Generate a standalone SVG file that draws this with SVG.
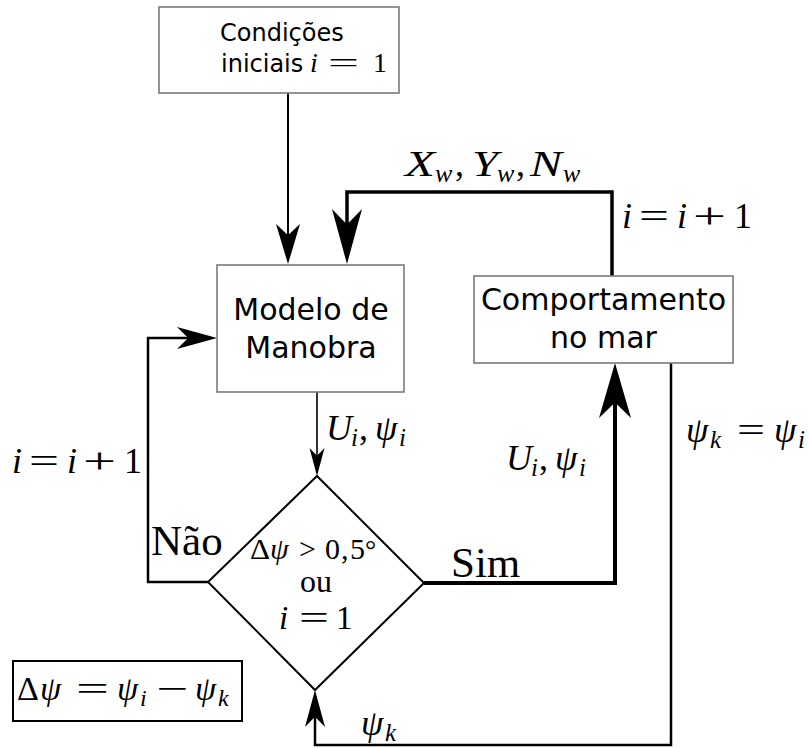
<svg xmlns="http://www.w3.org/2000/svg" xmlns:xlink="http://www.w3.org/1999/xlink" width="809" height="749" viewBox="0 0 809 749">
<style>
.box{fill:#fff;stroke:#7a7a7a;stroke-width:1.6}
.sans{font-family:"DejaVu Sans",sans-serif;fill:#000}
.m{font-family:"Liberation Serif",serif;font-style:italic;fill:#000}
.r{font-family:"Liberation Serif",serif;font-style:normal;fill:#000}
.op{font-family:"Liberation Serif",serif;font-style:normal;fill:#000}
.ln{fill:none;stroke:#000}
</style>
<defs>
<path id="ah" d="M0,0 L-1,-1 L-0.72,0 L-1,1 Z" fill="#000"/>
</defs>
<rect width="809" height="749" fill="#fff"/>

<g id="connectors">
  <path class="ln" stroke-width="2" d="M288,93 V240"/>
  <path class="ln" stroke-width="3.5" d="M612,276 V192 H347 V235"/>
  <path class="ln" stroke-width="2.5" d="M208,582 H148 V338 H200"/>
  <path class="ln" stroke-width="1.6" d="M317,392 V460"/>
  <path class="ln" stroke-width="4" d="M424,583 H615 V400"/>
  <path class="ln" stroke-width="2.5" d="M671,363 V745 H315 V705"/>
  <use xlink:href="#ah" transform="translate(288,264) rotate(90) scale(40,12)"/>
  <use xlink:href="#ah" transform="translate(347,264) rotate(90) scale(55,15)"/>
  <use xlink:href="#ah" transform="translate(217,338) scale(40,11)"/>
  <use xlink:href="#ah" transform="translate(317,476) rotate(90) scale(28,7.5)"/>
  <use xlink:href="#ah" transform="translate(615,363) rotate(-90) scale(55,16)"/>
  <use xlink:href="#ah" transform="translate(315,690) rotate(-90) scale(37,10)"/>
</g>

<g id="n-init">
  <rect class="box" x="159" y="7" width="240" height="86"/>
  <text class="sans" x="220" y="41" font-size="24">Condições</text>
  <text class="sans" x="221" y="72" font-size="24">iniciais<tspan class="m" x="310" font-size="28">i</tspan><tspan class="op" x="328" font-size="28" textLength="31" lengthAdjust="spacingAndGlyphs">=</tspan><tspan class="r" x="373" font-size="28">1</tspan></text>
</g>

<g id="n-modelo">
  <rect class="box" x="217" y="265" width="187" height="127"/>
  <text class="sans" x="311" y="320" font-size="30" text-anchor="middle">Modelo de</text>
  <text class="sans" x="311" y="358" font-size="30" text-anchor="middle">Manobra</text>
</g>

<g id="n-comport">
  <rect class="box" x="474" y="276" width="259" height="87"/>
  <text class="sans" x="603.5" y="310" font-size="30" text-anchor="middle">Comportamento</text>
  <text class="sans" x="603.5" y="348" font-size="30" text-anchor="middle">no mar</text>
</g>

<g id="n-decisao">
  <polygon points="317,476 424,583 315,690 208,582" fill="#fff" stroke="#000" stroke-width="2"/>
  <text class="r" x="250" y="559" font-size="30" textLength="20" lengthAdjust="spacingAndGlyphs">Δ</text>
  <text class="m" x="270" y="559" font-size="30">ψ</text>
  <text class="op" x="299" y="559" font-size="30">&gt;</text>
  <text class="r" x="325" y="559" font-size="30">0</text>
  <text class="r" x="341" y="559" font-size="30">,</text>
  <text class="r" x="350" y="559" font-size="30">5</text>
  <text class="r" x="365" y="559" font-size="28">°</text>
  <text class="r" x="316" y="592" font-size="32" text-anchor="middle">ou</text>
  <text class="m" x="279" y="629" font-size="33">i</text>
  <text class="op" x="299" y="629" font-size="33" textLength="30" lengthAdjust="spacingAndGlyphs">=</text>
  <text class="r" x="336" y="629" font-size="33">1</text>
</g>

<g id="n-delta">
  <rect x="13" y="661" width="229" height="60" fill="#fff" stroke="#000" stroke-width="2"/>
  <text class="r" x="17" y="700" font-size="34">Δ</text>
  <text class="m" x="40" y="700" font-size="34">ψ</text>
  <text class="op" x="76" y="700" font-size="34" textLength="33" lengthAdjust="spacingAndGlyphs">=</text>
  <text class="m" x="117" y="700" font-size="34">ψ</text>
  <text class="m" x="140" y="706" font-size="24">i</text>
  <text class="op" x="156" y="700" font-size="34" textLength="32" lengthAdjust="spacingAndGlyphs">−</text>
  <text class="m" x="195" y="700" font-size="34">ψ</text>
  <text class="m" x="218" y="706" font-size="24">k</text>
</g>

<g id="labels">
  <text class="m" x="405" y="176" font-size="36" textLength="30" lengthAdjust="spacingAndGlyphs">X</text>
  <text class="m" x="435" y="182" font-size="26">w</text>
  <text class="r" x="455" y="176" font-size="36">,</text>
  <text class="m" x="472" y="176" font-size="36" textLength="26" lengthAdjust="spacingAndGlyphs">Y</text>
  <text class="m" x="497" y="182" font-size="26">w</text>
  <text class="r" x="516" y="176" font-size="36">,</text>
  <text class="m" x="530" y="176" font-size="36" textLength="32" lengthAdjust="spacingAndGlyphs">N</text>
  <text class="m" x="563" y="182" font-size="26">w</text>

  <text class="m" x="622" y="228" font-size="36">i</text>
  <text class="op" x="639" y="228" font-size="36" textLength="30" lengthAdjust="spacingAndGlyphs">=</text>
  <text class="m" x="677" y="228" font-size="36">i</text>
  <text class="op" x="693" y="228" font-size="36" textLength="33" lengthAdjust="spacingAndGlyphs">+</text>
  <text class="r" x="734" y="228" font-size="36">1</text>

  <text class="m" x="12" y="473" font-size="36">i</text>
  <text class="op" x="29" y="473" font-size="36" textLength="30" lengthAdjust="spacingAndGlyphs">=</text>
  <text class="m" x="67" y="473" font-size="36">i</text>
  <text class="op" x="83" y="473" font-size="36" textLength="33" lengthAdjust="spacingAndGlyphs">+</text>
  <text class="r" x="124" y="473" font-size="36">1</text>

  <text class="m" x="326" y="440" font-size="36">U</text>
  <text class="m" x="351" y="446" font-size="25">i</text>
  <text class="r" x="359" y="440" font-size="36">,</text>
  <text class="m" x="375" y="440" font-size="36">ψ</text>
  <text class="m" x="399" y="446" font-size="25">i</text>

  <text class="m" x="506" y="470" font-size="36">U</text>
  <text class="m" x="531" y="476" font-size="25">i</text>
  <text class="r" x="539" y="470" font-size="36">,</text>
  <text class="m" x="555" y="470" font-size="36">ψ</text>
  <text class="m" x="579" y="476" font-size="25">i</text>

  <text class="m" x="686" y="442" font-size="36">ψ</text>
  <text class="m" x="710" y="448" font-size="25">k</text>
  <text class="op" x="737" y="442" font-size="36" textLength="28" lengthAdjust="spacingAndGlyphs">=</text>
  <text class="m" x="774" y="442" font-size="36">ψ</text>
  <text class="m" x="798" y="448" font-size="25">i</text>

  <text class="m" x="361" y="735" font-size="36">ψ</text>
  <text class="m" x="385" y="741" font-size="25">k</text>

  <text class="r" x="151" y="555" font-size="43">Não</text>
  <text class="r" x="451" y="577" font-size="43">Sim</text>
</g>
</svg>
